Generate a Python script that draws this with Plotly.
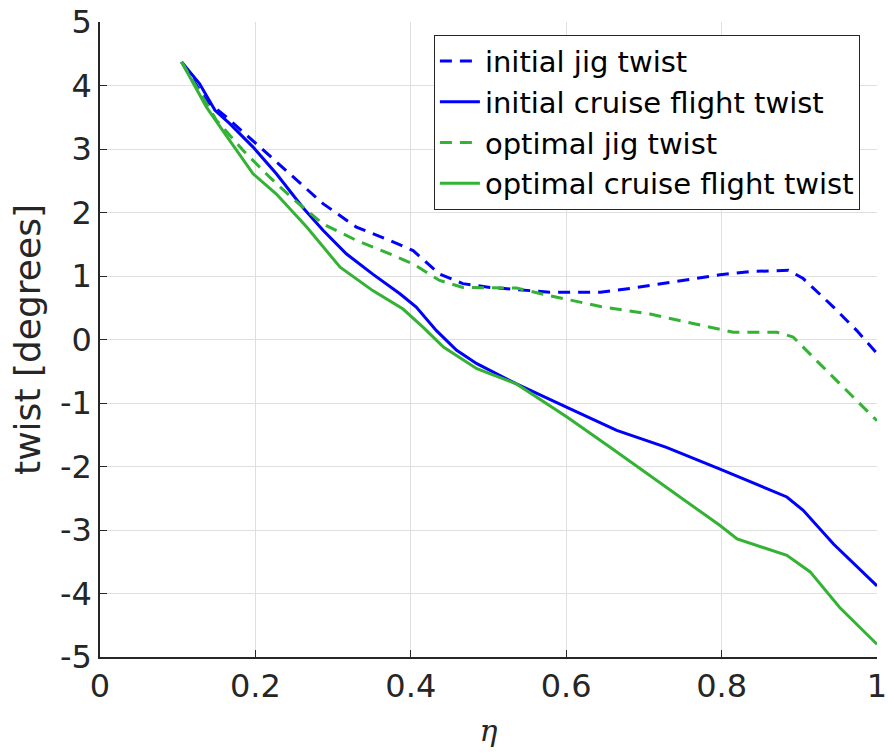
import plotly.graph_objects as go

# Spanwise station (eta) and twist in degrees for each distribution
eta_init_jig = [0.105, 0.137, 0.163, 0.201, 0.244, 0.287, 0.330, 0.373, 0.403, 0.437,
                0.467, 0.502, 0.579, 0.644, 0.686, 0.751, 0.798, 0.837, 0.886, 0.905,
                0.944, 0.974, 1.0]
twist_init_jig = [4.37, 3.76, 3.50, 3.08, 2.61, 2.14, 1.77, 1.56, 1.40, 1.03,
                  0.88, 0.82, 0.745, 0.745, 0.81, 0.93, 1.02, 1.07, 1.09, 0.96,
                  0.51, 0.14, -0.22]

eta_init_cruise = [0.105, 0.128, 0.148, 0.167, 0.197, 0.227, 0.261, 0.287, 0.317, 0.351,
                   0.386, 0.407, 0.433, 0.459, 0.485, 0.536, 0.601, 0.665, 0.729, 0.798,
                   0.884, 0.905, 0.944, 1.0]
twist_init_cruise = [4.37, 4.03, 3.61, 3.40, 3.03, 2.61, 2.08, 1.72, 1.35, 1.03,
                     0.72, 0.51, 0.14, -0.17, -0.38, -0.70, -1.07, -1.43, -1.70, -2.04,
                     -2.48, -2.69, -3.22, -3.88]

eta_opt_jig = [0.105, 0.150, 0.184, 0.218, 0.248, 0.287, 0.330, 0.373, 0.403, 0.437,
               0.467, 0.502, 0.536, 0.579, 0.644, 0.708, 0.785, 0.815, 0.871, 0.892,
               0.922, 0.957, 1.0]
twist_opt_jig = [4.37, 3.45, 2.98, 2.56, 2.22, 1.82, 1.56, 1.35, 1.19, 0.93,
                 0.82, 0.81, 0.81, 0.69, 0.52, 0.40, 0.20, 0.115, 0.115, 0.04,
                 -0.33, -0.75, -1.28]

eta_opt_cruise = [0.105, 0.137, 0.158, 0.197, 0.227, 0.266, 0.309, 0.351, 0.390, 0.416,
                  0.442, 0.485, 0.536, 0.601, 0.657, 0.729, 0.798, 0.820, 0.884, 0.914,
                  0.952, 1.0]
twist_opt_cruise = [4.37, 3.66, 3.29, 2.61, 2.29, 1.77, 1.14, 0.77, 0.48, 0.19,
                    -0.12, -0.46, -0.70, -1.22, -1.70, -2.33, -2.93, -3.14, -3.40, -3.66,
                    -4.22, -4.80]

x_ticks = [0, 0.2, 0.4, 0.6, 0.8, 1]
x_tick_text = ["0", "0.2", "0.4", "0.6", "0.8", "1"]
y_ticks = [5, 4, 3, 2, 1, 0, -1, -2, -3, -4, -5]
y_tick_text = ["5", "4", "3", "2", "1", "0", "-1", "-2", "-3", "-4", "-5"]

BLUE = "#0000FF"
GREEN = "rgb(51,178,51)"
DASH = "12px,8px"
FONT = "DejaVu Sans"
TEXT = "#262626"

fig = go.Figure()
fig.add_trace(go.Scatter(x=eta_init_jig, y=twist_init_jig, mode="lines",
                         name="initial jig twist",
                         line=dict(color=BLUE, width=3, dash=DASH)))
fig.add_trace(go.Scatter(x=eta_init_cruise, y=twist_init_cruise, mode="lines",
                         name="initial cruise flight twist",
                         line=dict(color=BLUE, width=3)))
fig.add_trace(go.Scatter(x=eta_opt_jig, y=twist_opt_jig, mode="lines",
                         name="optimal jig twist",
                         line=dict(color=GREEN, width=3, dash=DASH)))
fig.add_trace(go.Scatter(x=eta_opt_cruise, y=twist_opt_cruise, mode="lines",
                         name="optimal cruise flight twist",
                         line=dict(color=GREEN, width=3)))

axis_common = dict(
    showgrid=True, gridcolor="#dfdfdf", gridwidth=1,
    showline=True, linecolor=TEXT, linewidth=1.5,
    ticks="inside", ticklen=7, tickcolor=TEXT, tickwidth=1,
    tickfont=dict(family=FONT, size=32, color=TEXT),
    zeroline=False, automargin=False,
)

fig.update_layout(
    width=888, height=755,
    margin=dict(l=100, r=11, t=22, b=98),
    paper_bgcolor="white", plot_bgcolor="white",
    font=dict(family=FONT, color=TEXT),
    xaxis=dict(range=[0, 1], tickvals=x_ticks, ticktext=x_tick_text,
               title=dict(text="<i>η</i>", font=dict(family="DejaVu Serif", size=30, color=TEXT),
                          standoff=16),
               **axis_common),
    yaxis=dict(range=[-5, 5], tickvals=y_ticks, ticktext=y_tick_text,
               title=dict(text="twist [degrees]", font=dict(family=FONT, size=36, color=TEXT),
                          standoff=8),
               **axis_common),
    legend=dict(x=0.978, y=0.98, xanchor="right", yanchor="top",
                bgcolor="white", bordercolor=TEXT, borderwidth=1,
                font=dict(family=FONT, size=29, color="#000000"),
                tracegroupgap=0, itemwidth=40),
    showlegend=True,
)

fig.write_html("out.html")
